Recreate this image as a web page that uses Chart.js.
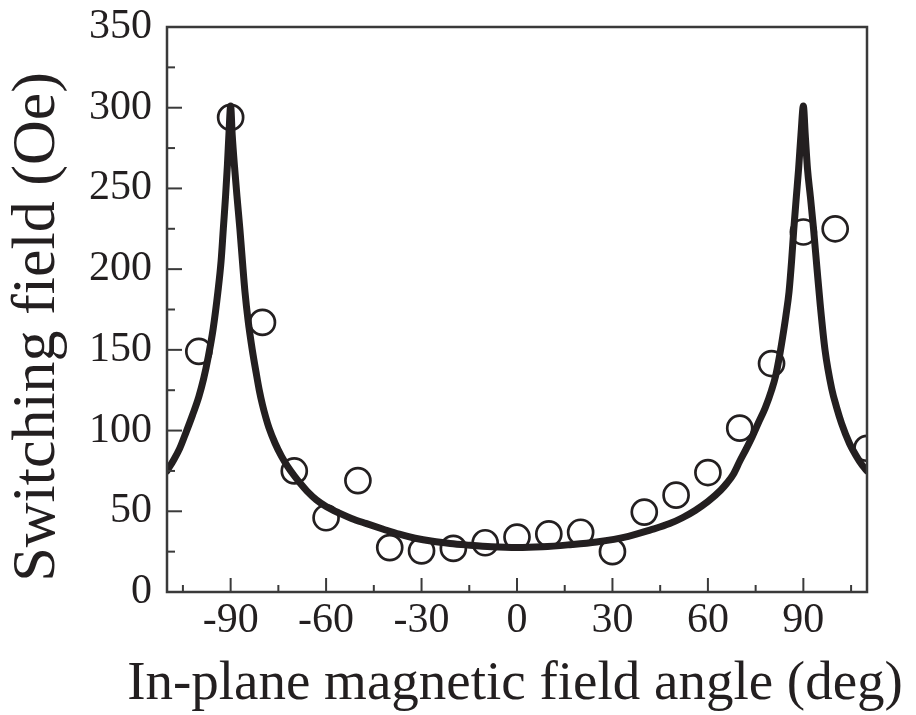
<!DOCTYPE html>
<html>
<head>
<meta charset="utf-8">
<script src="https://cdn.jsdelivr.net/npm/chart.js@4/dist/chart.umd.min.js"></script>
<style>
  html, body { margin: 0; padding: 0; background: #fff; }
  canvas { display: block; }
</style>
</head>
<body>
<canvas id="c" width="916" height="715"></canvas>
<script>
// ── Datos ────────────────────────────────────────────────────
// Puntos medidos (círculos)
const measAngle = [-100, -90, -80, -70, -60, -50, -40, -30, -20, -10, 0, 10, 20, 30, 40, 50, 60, 70, 80, 90, 100, 110];
const measField = [149, 294, 167, 75, 46, 69, 27.5, 25.5, 27, 30.5, 34, 36, 37, 25, 49.5, 60, 74, 101.5, 141.5, 223, 225, 89];

// Curva de ajuste (línea continua)
const fitAngle = [-110, -108, -106, -104, -102, -100, -98.5, -97, -95.5, -94, -93, -92.3, -91.6, -91, -90.5, -90,
  -89.5, -88.8, -88, -87.1, -86.3, -85.5, -84.5, -83.2, -82, -81, -80, -79, -78, -76, -74, -72, -70, -68, -66, -63,
  -60, -56, -52, -47.5, -42, -37, -32, -26.5, -21, -16, -8, 0, 8, 16, 25, 35, 42, 48, 52, 56, 60, 64, 66, 68, 70,
  72, 74, 75.8, 78, 80, 81.3, 82.4, 83.5, 84.5, 85.5, 86.3, 87, 87.8, 88.5, 89.3, 90, 90.6, 91.3, 92.2, 93.2,
  94.3, 95.3, 96.8, 98.9, 100.5, 102, 104.5, 106.7, 108.5, 110];
const fitField = [75, 81.5, 89, 99, 109.5, 121, 132, 146, 163, 186, 205, 225, 245, 265, 285, 301,
  283, 264, 245, 225, 205, 186, 168, 150, 136, 125, 116, 108.5, 102, 92, 84, 77.5, 72, 67, 62.5, 57,
  53, 49, 45.6, 42.5, 38.9, 35.8, 33.3, 31.4, 30.1, 29.2, 28, 27.5, 28, 29.2, 31, 34.5, 38.5, 42.4, 46, 50.5, 56, 63, 67.5, 73, 81,
  88.5, 96.5, 104.5, 114, 125, 134, 145, 158, 171, 186, 205, 225, 245, 262, 285, 301, 283, 262, 245, 225,
  200, 178, 150, 126, 114, 104.5, 92, 84, 78.5, 75];

// Ticks
const xMajor = [-90, -60, -30, 0, 30, 60, 90];
const xMinor = [-105, -75, -45, -15, 15, 45, 75, 105];
const yMajor = [0, 50, 100, 150, 200, 250, 300, 350];
const yMinor = [25, 75, 125, 175, 225, 275, 325];

const INK = '#231f20';
const FONT = "'Liberation Serif', 'Times New Roman', serif";
const X_TITLE = 'In-plane magnetic field angle (deg)';
const Y_TITLE = 'Switching field (Oe)';

// ── Marco, ticks hacia dentro y títulos de ejes ──────────────
// (los títulos van a mano: el título de Chart.js se comprime al ancho del eje)
const framePlugin = {
  id: 'frame',
  afterDatasetsDraw(chart) {
    const { ctx, chartArea: a, scales: { x, y } } = chart;
    ctx.save();
    ctx.strokeStyle = '#3a3a3a';
    ctx.lineWidth = 2.5;
    ctx.strokeRect(a.left, a.top, a.right - a.left, a.bottom - a.top);
    ctx.lineWidth = 2;
    const tick = (x1, y1, x2, y2) => { ctx.beginPath(); ctx.moveTo(x1, y1); ctx.lineTo(x2, y2); ctx.stroke(); };
    xMajor.forEach(v => { const px = x.getPixelForValue(v); tick(px, a.bottom, px, a.bottom - 14); });
    xMinor.forEach(v => { const px = x.getPixelForValue(v); tick(px, a.bottom, px, a.bottom - 7); });
    yMajor.forEach(v => { const py = y.getPixelForValue(v); tick(a.left, py, a.left + 15, py); });
    yMinor.forEach(v => { const py = y.getPixelForValue(v); tick(a.left, py, a.left + 8, py); });

    ctx.fillStyle = INK;
    ctx.textAlign = 'center';
    ctx.textBaseline = 'alphabetic';
    ctx.font = `55px ${FONT}`;
    ctx.fillText(X_TITLE, 515, 699);

    ctx.translate(54, 327);
    ctx.rotate(-Math.PI / 2);
    ctx.font = `62px ${FONT}`;
    ctx.fillText(Y_TITLE, 0, 0);
    ctx.restore();
  }
};

new Chart(document.getElementById('c'), {
  type: 'line',
  data: {
    datasets: [
      {
        label: 'fit',
        data: fitAngle.map((a, i) => ({ x: a, y: fitField[i] })),
        borderColor: INK, borderWidth: 7, pointRadius: 0,
        cubicInterpolationMode: 'monotone', borderJoinStyle: 'round', borderCapStyle: 'round',
        clip: 0, fill: false
      },
      {
        label: 'meas',
        data: measAngle.map((a, i) => ({ x: a, y: measField[i] })),
        showLine: false, pointRadius: 12.5, pointBorderWidth: 2.7,
        pointBorderColor: INK, pointBackgroundColor: 'rgba(0,0,0,0)', clip: 0
      }
    ]
  },
  options: {
    responsive: false, animation: false, devicePixelRatio: 1,
    layout: { padding: { top: 27, right: 49, left: 0, bottom: 0 } },
    plugins: { legend: { display: false }, tooltip: { enabled: false } },
    scales: {
      x: {
        type: 'linear', min: -110, max: 110,
        afterBuildTicks: s => { s.ticks = xMajor.map(v => ({ value: v })); },
        afterFit: s => { s.height = 123; },
        grid: { display: false, drawTicks: false }, border: { display: false },
        ticks: { color: INK, padding: 4, font: { family: FONT, size: 42 }, maxRotation: 0, autoSkip: false }
      },
      y: {
        type: 'linear', min: 0, max: 350,
        afterBuildTicks: s => { s.ticks = yMajor.map(v => ({ value: v })); },
        afterFit: s => { s.width = 167; },
        grid: { display: false, drawTicks: false }, border: { display: false },
        ticks: { color: INK, padding: 15, font: { family: FONT, size: 42, lineHeight: 0.5 }, autoSkip: false }
      }
    }
  },
  plugins: [framePlugin]
});
</script>
</body>
</html>
